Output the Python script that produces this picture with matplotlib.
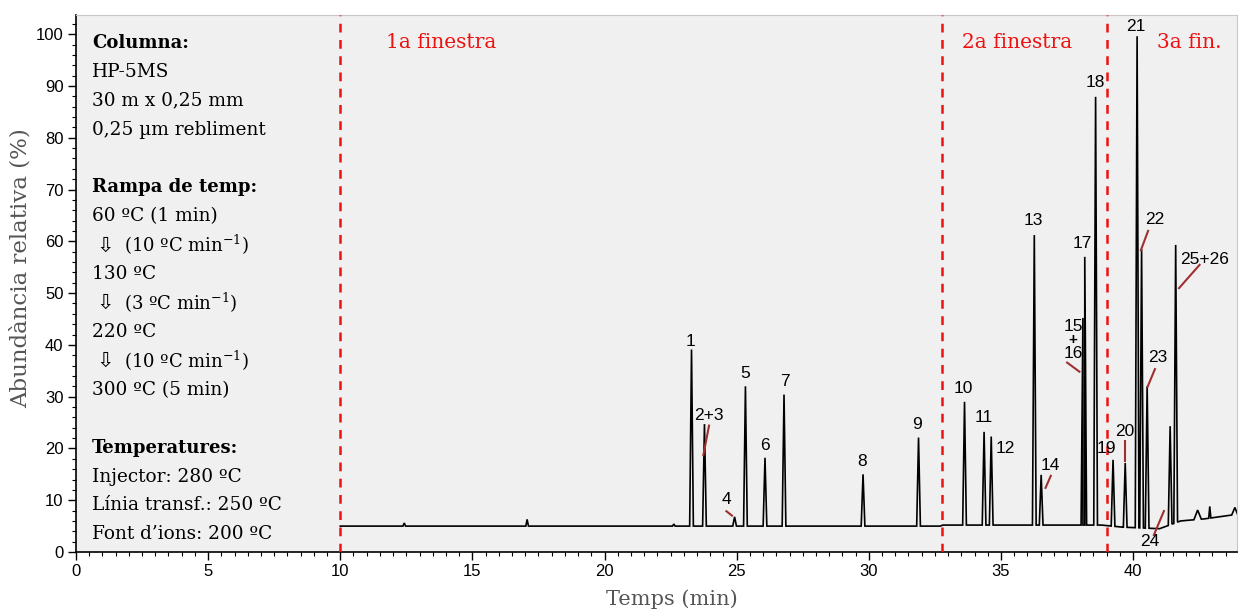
import numpy as np
import matplotlib
matplotlib.use('Agg')
import matplotlib.pyplot as plt
from matplotlib.ticker import MultipleLocator

# ---------------- data ----------------
peak_labels = ['1', '2+3', '4', '5', '6', '7', '8', '9', '10', '11', '12', '13', '14',
               '15+16', '17', '18', '19', '20', '21', '22', '23', '24', '25+26']
peak_times = [23.29, 23.78, 24.92, 25.33, 26.07, 26.79, 29.78, 31.88, 33.62, 34.36, 34.63,
              36.26, 36.52, 38.10, 38.17, 38.58, 39.24, 39.70, 40.15, 40.32, 40.53, 41.40, 41.61]
peak_heights = [39.1, 24.7, 6.8, 32.0, 18.2, 30.4, 15.0, 22.1, 29.0, 23.2, 22.3,
                61.2, 14.9, 45.2, 57.0, 87.9, 17.8, 17.2, 99.6, 58.5, 32.0, 24.3, 59.3]

# small unlabelled features of the trace
minor_times = [12.42, 17.07, 22.62, 42.44, 42.90, 43.85]
minor_heights = [5.6, 6.3, 5.4, 8.1, 8.8, 8.6]

# baseline of the chromatogram
base_times = [10.0, 32.7, 32.8, 38.8, 39.6, 41.0, 41.8, 42.7, 43.4, 43.95]
base_levels = [5.0, 5.0, 5.2, 5.2, 4.8, 4.5, 6.0, 6.4, 6.9, 7.3]

# acquisition windows
window_times = [10.0, 32.75, 39.02]
window_names = ['1a finestra', '2a finestra', '3a fin.']

info_lines = [
    ('Columna:', True), ('HP-5MS', False), ('30 m x 0,25 mm', False),
    ('0,25 µm rebliment', False), ('', False),
    ('Rampa de temp:', True), ('60 ºC (1 min)', False),
    ('⇩|(10 ºC min$^{-1}$)', False), ('130 ºC', False),
    ('⇩|(3 ºC min$^{-1}$)', False), ('220 ºC', False),
    ('⇩|(10 ºC min$^{-1}$)', False), ('300 ºC (5 min)', False), ('', False),
    ('Temperatures:', True), ('Injector: 280 ºC', False),
    ('Línia transf.: 250 ºC', False), ('Font d’ions: 200 ºC', False),
]

# label layout (data coordinates): text position, optional leader line
label_pos = {
    '1': (23.26, 40.7), '2+3': (23.96, 26.4), '4': (24.61, 10.2), '5': (25.33, 34.5),
    '6': (26.05, 20.6), '7': (26.81, 33.0), '8': (29.76, 17.5), '9': (31.84, 24.7),
    '10': (33.58, 31.6), '11': (34.34, 25.9), '12': (35.16, 19.9), '13': (36.22, 64.1),
    '14': (36.86, 16.8), '15+16': (37.72, 41.0), '17': (38.07, 59.5), '18': (38.58, 90.7),
    '19': (38.98, 19.9), '20': (39.68, 23.2), '21': (40.11, 101.5), '22': (40.83, 64.3),
    '23': (40.92, 37.6), '24': (40.64, 2.1), '25+26': (42.72, 56.4),
}
leaders = {
    '2+3': ((23.96, 24.6), (23.73, 18.5)),
    '4': ((24.58, 8.0), (24.85, 6.9)),
    '14': ((36.90, 14.9), (36.67, 12.2)),
    '15+16': ((37.47, 36.7), (38.00, 34.7)),
    '20': ((39.68, 21.6), (39.68, 17.4)),
    '22': ((40.58, 62.2), (40.28, 58.1)),
    '23': ((40.84, 35.5), (40.53, 31.7)),
    '24': ((40.77, 3.1), (41.18, 8.1)),
    '25+26': ((42.54, 55.6), (41.71, 50.8)),
}

# ---------------- figure ----------------
W, H = 1240, 611
plt.rcParams['mathtext.fontset'] = 'dejavuserif'
fig = plt.figure(figsize=(W / 100, H / 100), dpi=100)
fig.patch.set_facecolor('white')
ax = fig.add_axes([76 / W, 1 - 552 / H, (1237 - 76) / W, (552 - 15) / H])
ax.set_facecolor('#f0f0f0')
ax.set_xlim(0, 43.93)
ax.set_ylim(0, 103.7)

# build the trace from peak apexes and baseline knots
def trace(bt, bl, pt, ph, hw):
    pts = list(zip(bt, bl))
    for t, h, w in zip(pt, ph, hw):
        b_l = np.interp(t - w, bt, bl)
        b_r = np.interp(t + w, bt, bl)
        pts += [(t - w, b_l), (t, h), (t + w, b_r)]
    pts.sort(key=lambda p: p[0])
    return [p[0] for p in pts], [p[1] for p in pts]

all_t = peak_times + minor_times
all_h = peak_heights + minor_heights
widths = [0.07] * len(peak_times) + [0.05, 0.05, 0.05, 0.14, 0.04, 0.12]
tx, ty = trace(base_times, base_levels, all_t, all_h, widths)
ax.plot(tx, ty, color='black', lw=1.2, solid_joinstyle='miter')

for wt in window_times:
    ax.axvline(wt, color='#ee1111', lw=1.8, ls=(0, (3.5, 3)), zorder=3)

red_x = [11.72, 33.54, 40.90]
for x, name in zip(red_x, window_names):
    ax.text(x, 98.4, name, color='#ee1111', fontsize=14.5, family='DejaVu Serif',
            va='center', ha='left')

lab_fs = 12.5
for lab in peak_labels:
    x, y = label_pos[lab]
    if lab == '15+16':
        ax.text(x, y + 2.6, '15', fontsize=lab_fs, family='Liberation Sans', ha='center', va='center')
        ax.text(x, y, '+', fontsize=11, family='Liberation Sans', ha='center', va='center',
                fontweight='bold')
        ax.text(x, y - 2.6, '16', fontsize=lab_fs, family='Liberation Sans', ha='center', va='center')
    else:
        ax.text(x, y, lab, fontsize=lab_fs, family='Liberation Sans', ha='center', va='center')

for lab, seg in leaders.items():
    (x0, y0), (x1, y1) = seg
    ax.plot([x0, x1], [y0, y1], color='#a03030', lw=1.5, solid_capstyle='butt')

# info text
line_h = 28.9
for i, (txt, bold) in enumerate(info_lines):
    if not txt:
        continue
    ypx = 43 + i * line_h
    yf = 1 - ypx / H
    if txt.startswith('⇩|'):
        fig.text(96 / W, yf, '⇩', fontsize=15, family='DejaVu Sans', va='center', ha='left')
        fig.text(124 / W, yf, txt[2:], fontsize=13, family='DejaVu Serif', va='center', ha='left')
    else:
        fig.text(92 / W, yf, txt, fontsize=13.3 if not bold else 13, family='DejaVu Serif',
                 va='center', ha='left', fontweight='bold' if bold else 'normal')

# axes styling
ax.xaxis.set_major_locator(MultipleLocator(5))
ax.xaxis.set_minor_locator(MultipleLocator(0.5))
ax.yaxis.set_major_locator(MultipleLocator(10))
ax.yaxis.set_minor_locator(MultipleLocator(2))
ax.tick_params(which='major', direction='out', length=6, width=1, labelsize=12,
               pad=3, colors='black')
ax.tick_params(which='minor', direction='out', length=3, width=0.8)
for lbl in ax.get_xticklabels() + ax.get_yticklabels():
    lbl.set_family('Liberation Sans')
ax.spines['top'].set_color('#c8c8c8')
ax.spines['right'].set_color('#c8c8c8')
ax.spines['left'].set_linewidth(1.2)
ax.spines['bottom'].set_linewidth(1.2)

fig.text(672 / W, 1 - 599 / H, 'Temps (min)', fontsize=15, family='DejaVu Serif',
         color='#555555', ha='center', va='center')
fig.text(21 / W, 1 - 268 / H, 'Abundància relativa (%)', fontsize=16.5, family='DejaVu Serif',
         color='#555555', ha='center', va='center', rotation=90)

fig.savefig('out.png', dpi=100)
